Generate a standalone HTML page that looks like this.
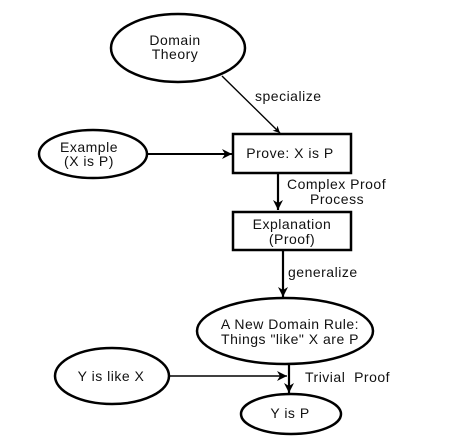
<!DOCTYPE html>
<html><head><meta charset="utf-8"><style>
html,body{margin:0;padding:0;background:#fff;}
svg{display:block;}
text{font-family:"Liberation Sans",Arial,sans-serif;font-size:14px;letter-spacing:0.5px;fill:#111;}
</style></head><body>
<svg width="451" height="448" viewBox="0 0 451 448" xmlns="http://www.w3.org/2000/svg">
<defs>
<marker id="a" viewBox="0 0 10 10" refX="10" refY="5" markerWidth="7" markerHeight="7" markerUnits="userSpaceOnUse" orient="auto"><path d="M0,0 L10,5 L0,10 L3,5 z" fill="#000"/></marker>
<marker id="b" viewBox="0 0 10 10" refX="10" refY="5" markerWidth="10" markerHeight="10" markerUnits="userSpaceOnUse" orient="auto"><path d="M0,0 L10,5 L0,10 L3,5 z" fill="#000"/></marker>
</defs>
<g fill="none" stroke="#000" stroke-width="2.5">
<ellipse cx="178" cy="48" rx="67" ry="34"/>
<ellipse cx="93" cy="154" rx="54" ry="24"/>
<rect x="233" y="134" width="118" height="39"/>
<rect x="233" y="212" width="118" height="38"/>
<ellipse cx="285" cy="331" rx="88" ry="33"/>
<ellipse cx="112" cy="376" rx="57" ry="28"/>
<ellipse cx="291" cy="414" rx="50" ry="20"/>
</g>
<g stroke="#000" fill="none">
<line x1="222" y1="76" x2="280" y2="133" stroke-width="1.4" marker-end="url(#a)"/>
<line x1="148" y1="154" x2="232" y2="154" stroke-width="2" marker-end="url(#b)"/>
<line x1="278" y1="173" x2="278" y2="210" stroke-width="2.2" marker-end="url(#b)"/>
<line x1="283" y1="250" x2="283" y2="297" stroke-width="2.2" marker-end="url(#b)"/>
<line x1="169" y1="376" x2="287" y2="376" stroke-width="1.4" marker-end="url(#b)"/>
<line x1="289" y1="365" x2="289" y2="393" stroke-width="2.2" marker-end="url(#b)"/>
</g>
<g text-anchor="middle">
<text x="175" y="45">Domain</text>
<text x="175" y="59">Theory</text>
<text x="89" y="152">Example</text>
<text x="89" y="166">(X is P)</text>
<text x="290" y="158">Prove: X is P</text>
<text x="292" y="229">Explanation</text>
<text x="292" y="244">(Proof)</text>
<text x="290" y="329">A New Domain Rule:</text>
<text x="290" y="344">Things "like" X are P</text>
<text x="111" y="381">Y is like X</text>
<text x="290" y="418">Y is P</text>
</g>
<text x="255" y="101">specialize</text>
<text x="287" y="189">Complex Proof</text>
<text x="310" y="204">Process</text>
<text x="288" y="277">generalize</text>
<text x="305" y="382" xml:space="preserve">Trivial  Proof</text>
</svg>
</body></html>
